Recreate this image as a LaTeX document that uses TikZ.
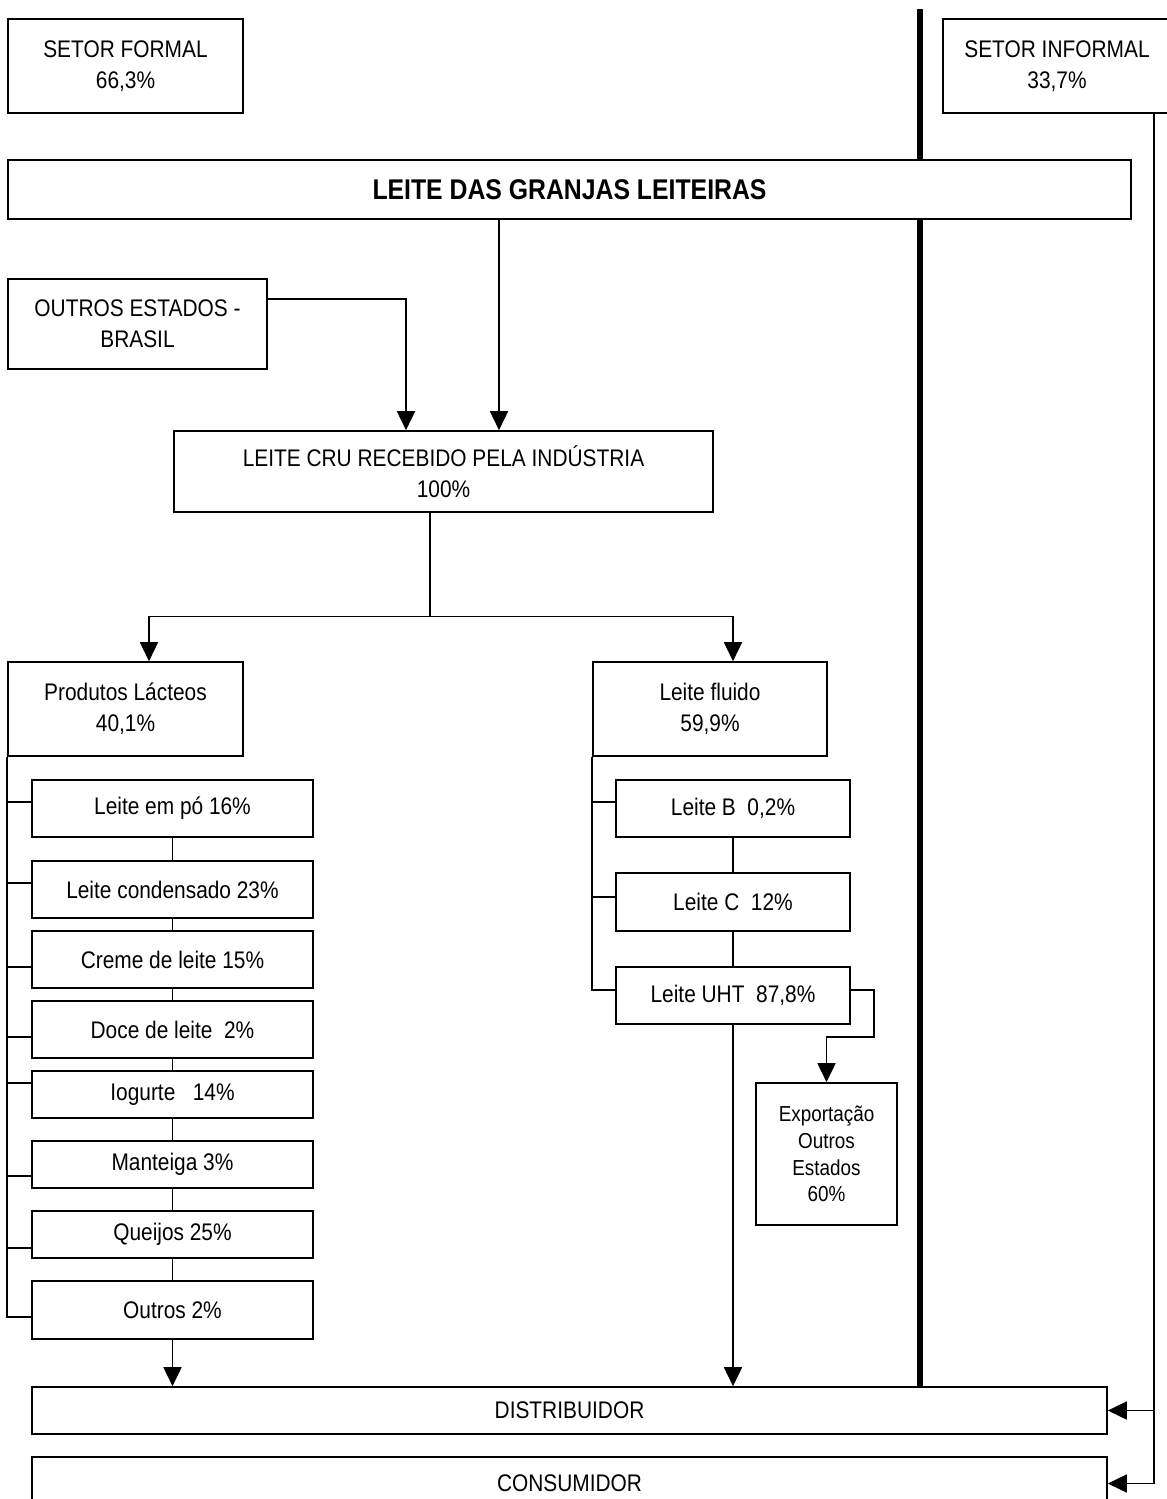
\documentclass[tikz,border=0pt]{standalone}
\usepackage{fontspec}
\setmainfont{Liberation Sans}[FakeStretch=0.87]
\usetikzlibrary{arrows.meta}

\begin{document}
\begin{tikzpicture}[x=1pt,y=-1pt,
  box/.style={draw, line width=1.6pt, fill=white, inner sep=0pt, align=center,
              font=\fontsize{24}{31}\selectfont},
  small/.style={font=\fontsize{21.7}{26.7}\selectfont},
  conn/.style={line width=1.6pt},
  arr/.style={conn, -{Triangle[length=19pt,width=18pt]}},
  divider/.style={line width=6pt}]

\useasboundingbox (0,0) rectangle (1167,1499);

% heavy line separating the formal and informal sectors
\draw[divider] (920,9) -- (920,1387);

% headers
\node[box, minimum width=235, minimum height=94] (sf) at (125.5,66) {SETOR FORMAL\\66,3\%};
\node[box, minimum width=228, minimum height=94] (si) at (1057,66) {SETOR INFORMAL\\33,7\%};

\node[box, minimum width=1123, minimum height=59, font=\fontsize{28.5}{31}\selectfont\bfseries]
  (gr) at (569.5,189.5) {LEITE DAS GRANJAS LEITEIRAS};

\node[box, minimum width=259, minimum height=90] (oe) at (137.5,324) {OUTROS ESTADOS -\\BRASIL};

\node[box, minimum width=539, minimum height=81] (lc) at (443.5,471.5)
  {LEITE CRU RECEBIDO PELA INDÚSTRIA\\100\%};

% the two main branches
\node[box, minimum width=235, minimum height=94] (pl) at (125.5,709) {Produtos Lácteos\\40,1\%};
\node[box, minimum width=234, minimum height=94] (lf) at (710,709) {Leite fluido\\59,9\%};

% dairy products
\node[box, minimum width=281, minimum height=57] (i1) at (172.5,808.5) {Leite em pó 16\%};
\node[box, minimum width=281, minimum height=57] (i2) at (172.5,889.5) {Leite condensado 23\%};
\node[box, minimum width=281, minimum height=57] (i3) at (172.5,959.5) {Creme de leite 15\%};
\node[box, minimum width=281, minimum height=57] (i4) at (172.5,1029.5) {Doce de leite\ \ 2\%};
\node[box, minimum width=281, minimum height=47] (i5) at (172.5,1094.5) {Iogurte\ \ \ 14\%};
\node[box, minimum width=281, minimum height=47] (i6) at (172.5,1164.5) {Manteiga 3\%};
\node[box, minimum width=281, minimum height=47] (i7) at (172.5,1234.5) {Queijos 25\%};
\node[box, minimum width=281, minimum height=58] (i8) at (172.5,1310) {Outros 2\%};

% fluid milk
\node[box, minimum width=234, minimum height=57] (lb) at (733,808.5) {Leite B\ \ 0,2\%};
\node[box, minimum width=234, minimum height=58] (lcc) at (733,902) {Leite C\ \ 12\%};
\node[box, minimum width=234, minimum height=57] (uht) at (733,995.5) {Leite UHT\ \ 87,8\%};
\node[box, small, minimum width=141, minimum height=142] (ex) at (826.5,1154)
  {Exportação\\Outros\\Estados\\60\%};

% distribution chain
\node[box, minimum width=1075, minimum height=47] (di) at (569.5,1410.5) {DISTRIBUIDOR};
\node[box, minimum width=1075, minimum height=53] (co) at (569.5,1483.5) {CONSUMIDOR};

% raw milk flows into industry
\coordinate (gdown) at ([xshift=-70.5pt]gr.south);
\draw[arr] (gdown) -- (gdown |- lc.north);
\draw[arr] ([yshift=25pt]oe.east) -| ([xshift=-37.5pt]lc.north);

% industry splits into the two branches
\coordinate (lcd) at ([xshift=-13.5pt]lc.south);
\draw[conn] (lcd) -- ++(0,103.5) coordinate (j);
\draw[arr] (j) -| ([xshift=23.5pt]pl.north);
\draw[arr] (j) -| ([xshift=23pt]lf.north);

% dairy products tree
\draw[conn] ([yshift=6.5pt]i1.west) -| (pl.south west);
\draw[conn] ([yshift=6.5pt]i2.west) -| (pl.south west);
\draw[conn] ([yshift=-7.5pt]i3.west) -| (pl.south west);
\draw[conn] ([yshift=-7.5pt]i4.west) -| (pl.south west);
\draw[conn] ([yshift=11.5pt]i5.west) -| (pl.south west);
\draw[conn] ([yshift=-11.5pt]i6.west) -| (pl.south west);
\draw[conn] ([yshift=-13.5pt]i7.west) -| (pl.south west);
\draw[conn] ([yshift=-7pt]i8.west) -| (pl.south west);
\draw[conn] (i1) -- (i2);
\draw[conn] (i2) -- (i3);
\draw[conn] (i3) -- (i4);
\draw[conn] (i4) -- (i5);
\draw[conn] (i5) -- (i6);
\draw[conn] (i6) -- (i7);
\draw[conn] (i7) -- (i8);

% fluid milk tree
\draw[conn] ([yshift=6.5pt]lb.west) -| (lf.south west);
\draw[conn] ([yshift=5pt]lcc.west) -| (lf.south west);
\draw[conn] ([yshift=5.5pt]uht.west) -| (lf.south west);
\draw[conn] (lb) -- (lcc);
\draw[conn] (lcc) -- (uht);
\draw[arr] ([yshift=5.5pt]uht.east) -- ++(23,0) -- ++(0,47) -| (ex.north);

% flows to the distributor
\draw[arr] (i8.south) -- (i8.south |- di.north);
\draw[arr] (uht.south) -- (uht.south |- di.north);

% informal sector goes straight to distributor and consumer
\coordinate (rtop) at ([xshift=97pt]si.south);
\draw[arr] (rtop) |- (co.east);
\draw[arr] (rtop |- di.east) -- (di.east);

\end{tikzpicture}
\end{document}
